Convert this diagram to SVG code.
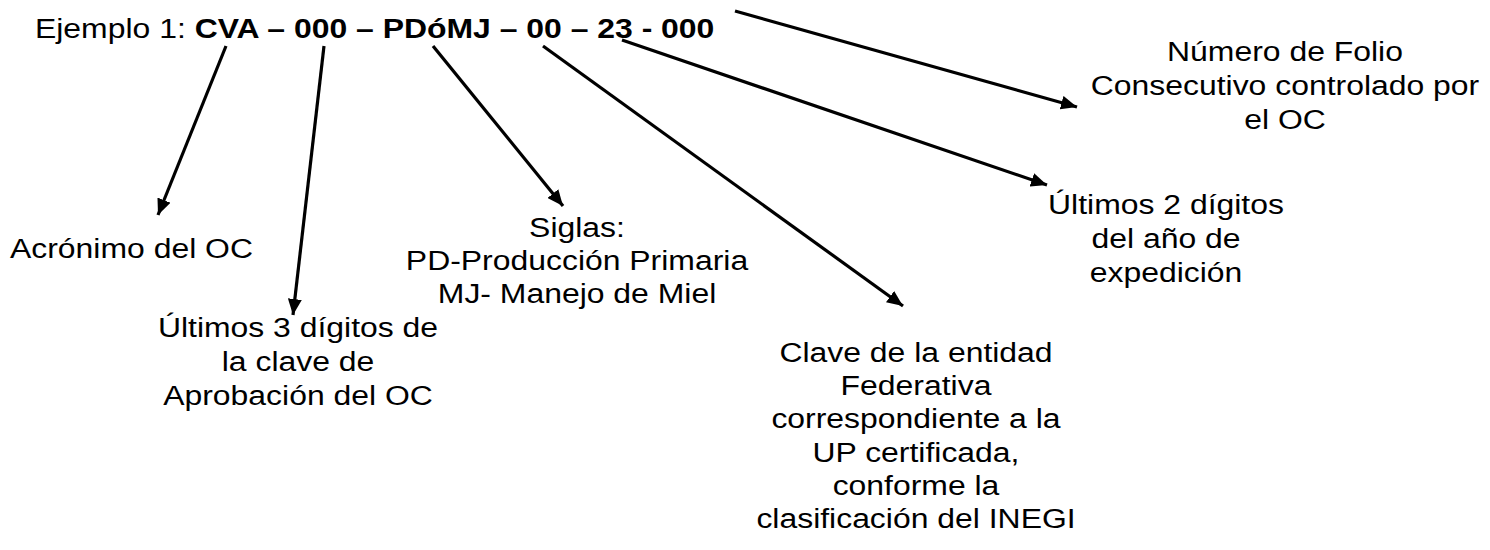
<svg xmlns="http://www.w3.org/2000/svg" width="1490" height="550" viewBox="0 0 1490 550">
<style>
text{font-family:"Liberation Sans",Arial,sans-serif;font-size:28px;fill:#000}
.c{text-anchor:middle}
.b{font-weight:bold}
</style>
<defs>
<marker id="ah" viewBox="0 0 16 14" refX="16" refY="7" markerWidth="16" markerHeight="14" markerUnits="userSpaceOnUse" orient="auto"><path d="M0,0 L16,7 L0,14 z" fill="#000"/></marker>
</defs>
<rect width="1490" height="550" fill="#fff"/>
<g id="title"><text transform="translate(35,38) scale(1.14,1)">Ejemplo 1: <tspan class="b">CVA – 000 – PDóMJ – 00 – 23 - 000</tspan></text></g>
<g id="connectors" stroke="#000" stroke-width="3.2" fill="none">
<line x1="226" y1="46" x2="158" y2="215" marker-end="url(#ah)"/>
<line x1="324" y1="46" x2="293" y2="315" marker-end="url(#ah)"/>
<line x1="433" y1="46" x2="563" y2="206" marker-end="url(#ah)"/>
<line x1="543" y1="46" x2="903" y2="306" marker-end="url(#ah)"/>
<line x1="622" y1="40" x2="1047" y2="185" marker-end="url(#ah)"/>
<line x1="735" y1="11" x2="1077" y2="107" marker-end="url(#ah)"/>
</g>
<g id="folio"><text class="c" transform="translate(1285,61) scale(1.14,1)">Número de Folio</text><text class="c" transform="translate(1285,95) scale(1.14,1)">Consecutivo controlado por</text><text class="c" transform="translate(1285,129) scale(1.14,1)">el OC</text></g>
<g id="acronimo"><text transform="translate(10,258) scale(1.14,1)">Acrónimo del OC</text></g>
<g id="siglas"><text class="c" transform="translate(577,237) scale(1.14,1)">Siglas:</text><text class="c" transform="translate(577,270) scale(1.14,1)">PD-Producción Primaria</text><text class="c" transform="translate(577,303) scale(1.14,1)">MJ- Manejo de Miel</text></g>
<g id="anio"><text class="c" transform="translate(1166,214) scale(1.14,1)">Últimos 2 dígitos</text><text class="c" transform="translate(1166,248) scale(1.14,1)">del año de</text><text class="c" transform="translate(1166,282) scale(1.14,1)">expedición</text></g>
<g id="aprobacion"><text class="c" transform="translate(298,337) scale(1.14,1)">Últimos 3 dígitos de</text><text class="c" transform="translate(298,371) scale(1.14,1)">la clave de</text><text class="c" transform="translate(298,405) scale(1.14,1)">Aprobación del OC</text></g>
<g id="entidad"><text class="c" transform="translate(916,362) scale(1.14,1)">Clave de la entidad</text><text class="c" transform="translate(916,395) scale(1.14,1)">Federativa</text><text class="c" transform="translate(916,428) scale(1.14,1)">correspondiente a la</text><text class="c" transform="translate(916,462) scale(1.14,1)">UP certificada,</text><text class="c" transform="translate(916,495) scale(1.14,1)">conforme la</text><text class="c" transform="translate(916,528) scale(1.14,1)">clasificación del INEGI</text></g>
</svg>
